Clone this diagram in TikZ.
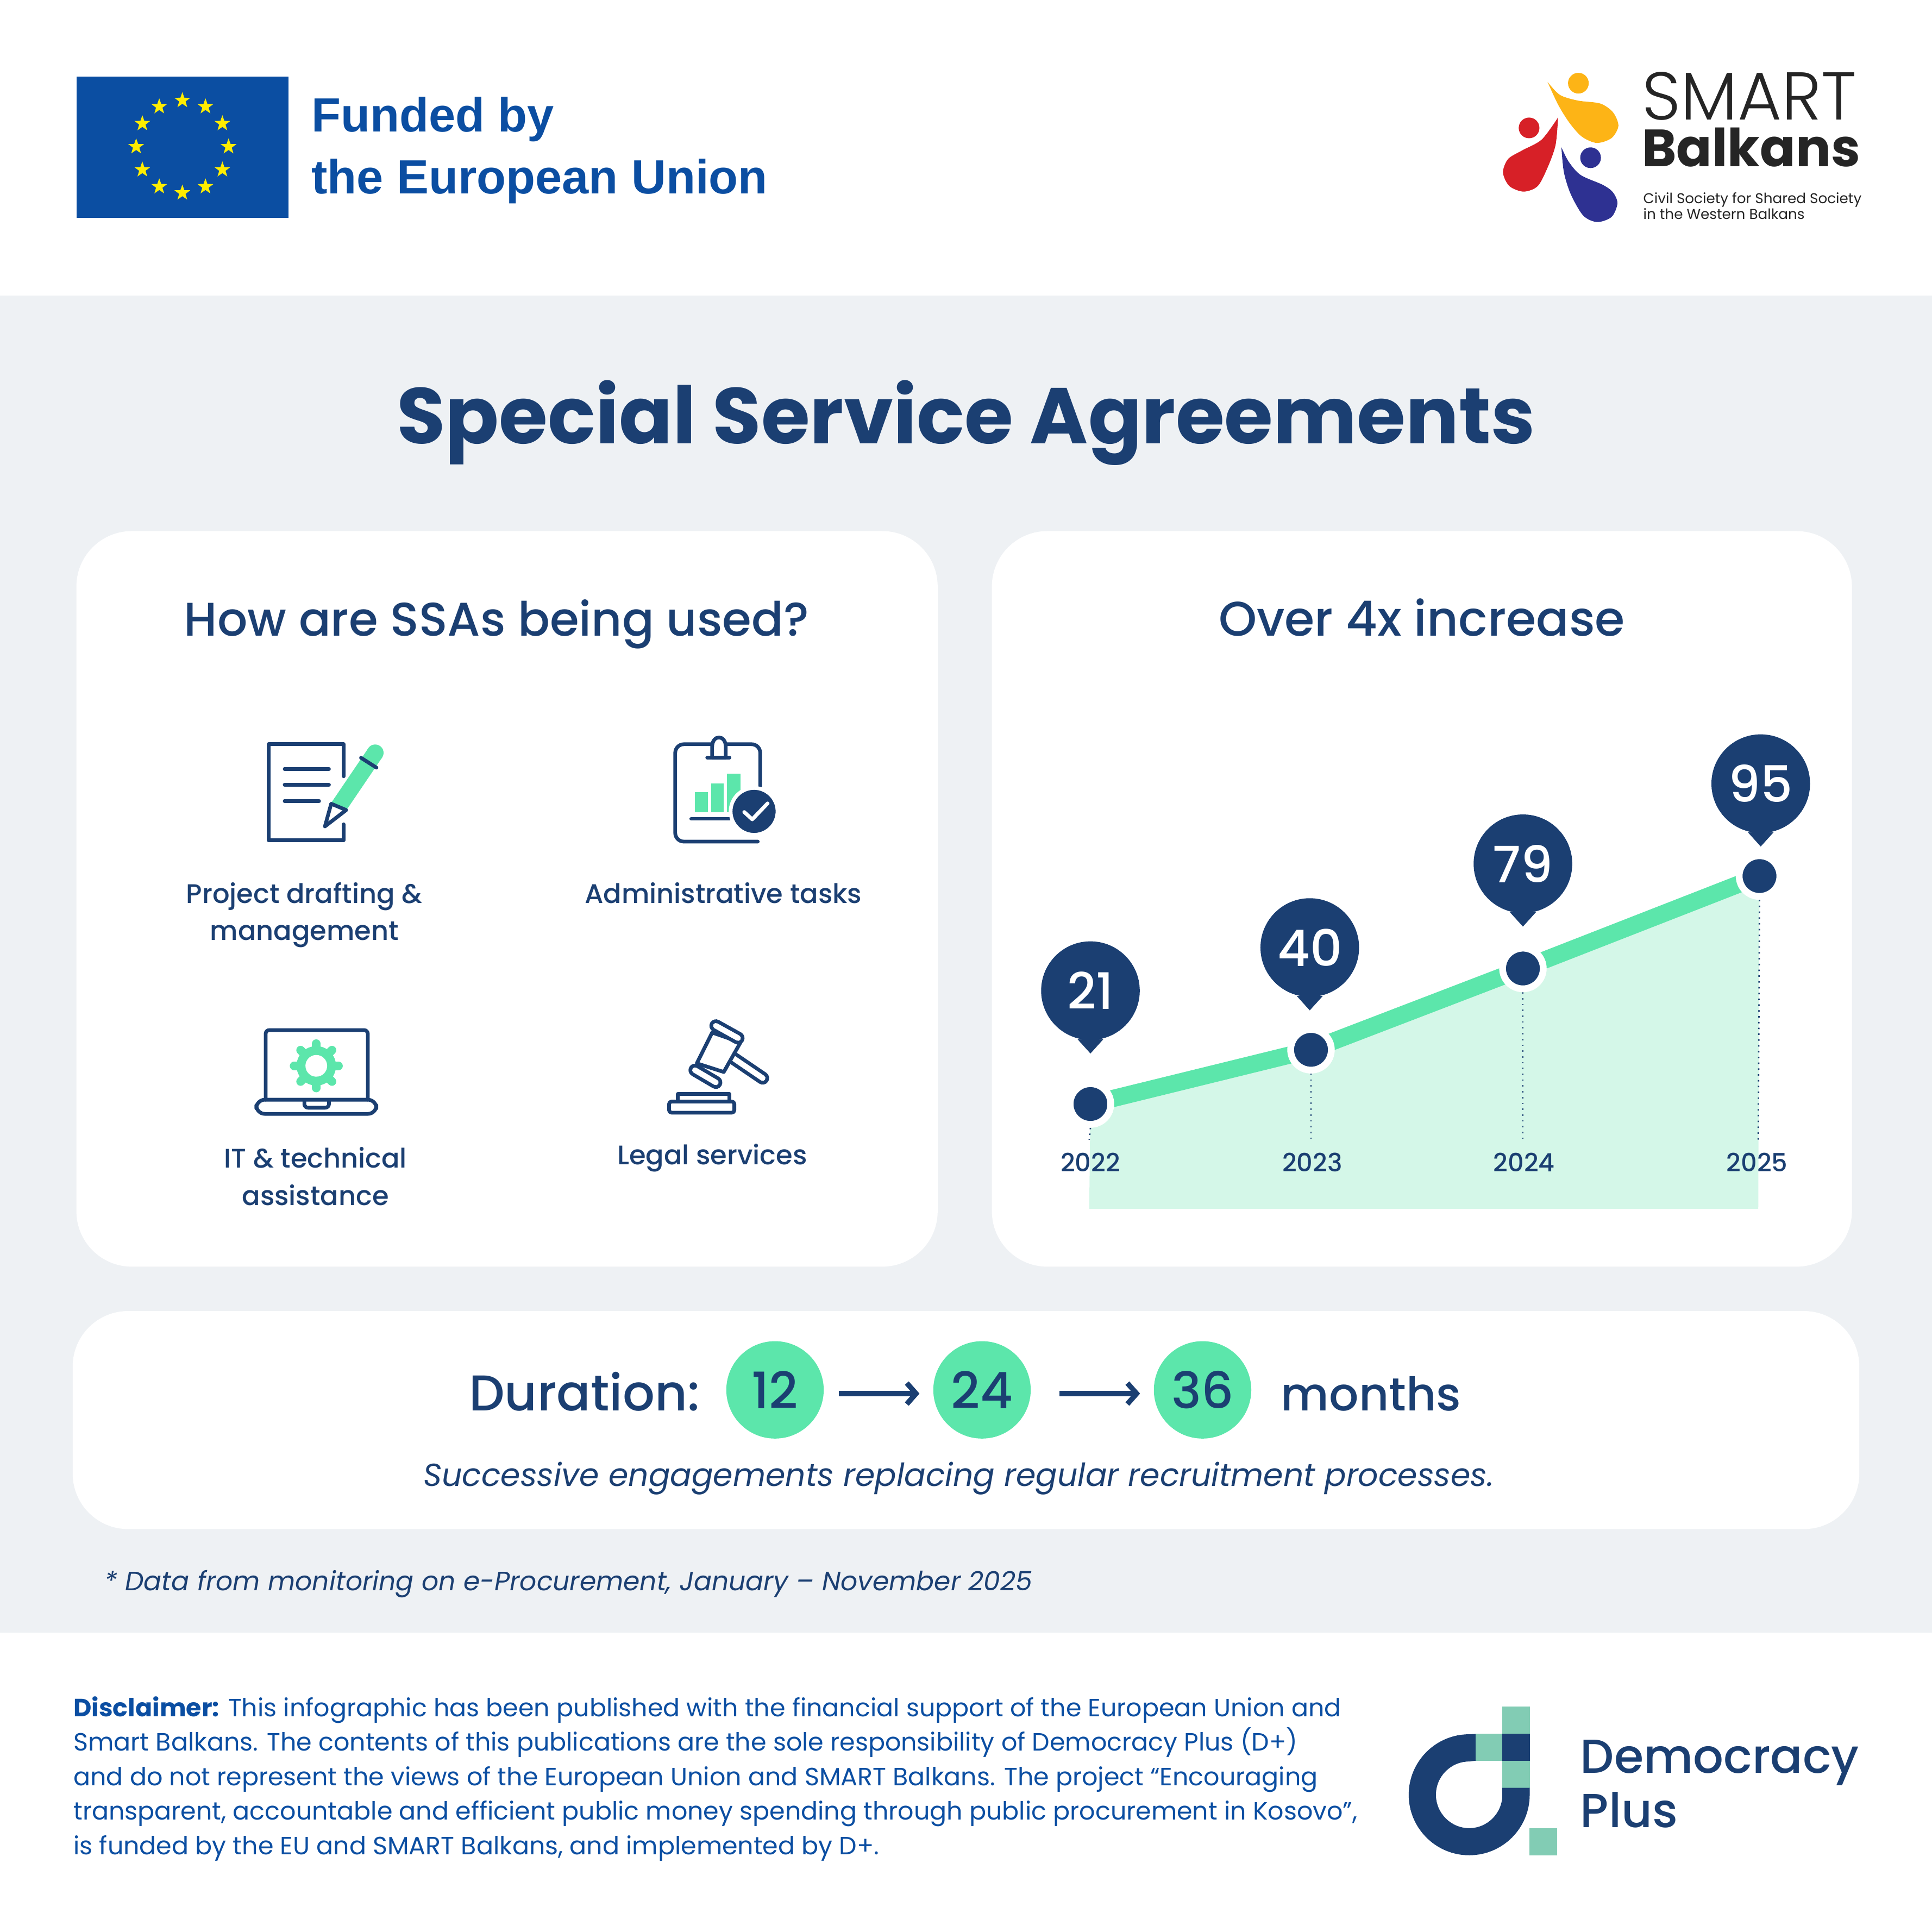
\documentclass[tikz,border=0pt]{standalone}
\usepackage{fontspec}
\setmainfont{Poppins}
\newfontfamily\medfont{Poppins Medium}
\newfontfamily\lightfont{Poppins Light}
\newfontfamily\eufont{Liberation Sans}
\usetikzlibrary{arrows.meta,shapes.geometric,positioning,backgrounds,calc}
\definecolor{navy}{HTML}{1B3F72}
\definecolor{mint}{HTML}{5CE6AB}
\definecolor{palemint}{HTML}{D4F7E8}
\definecolor{teal}{HTML}{82CCB4}
\definecolor{band}{HTML}{EEF1F4}
\definecolor{eublue}{HTML}{0B4EA2}
\definecolor{euyellow}{HTML}{FFED00}
\definecolor{smartblack}{HTML}{252525}
\definecolor{smartyellow}{HTML}{FDB416}
\definecolor{smartred}{HTML}{D72027}
\definecolor{smartblue}{HTML}{2E3192}
\tikzset{>={Straight Barb[length=.75mm,width=1.7mm]}}
\tikzset{card/.style={fill=white, rounded corners=.45cm}}
\tikzset{iconline/.style={draw=navy, line width=.03cm, line join=round, line cap=round}}
\tikzset{txt/.style={inner sep=0, text=navy, font=\medfont\fontsize{6.2}{8}\selectfont}}
\tikzset{yeartxt/.style={inner sep=0, text=navy, font=\medfont\fontsize{5.8}{8}\selectfont}}
\tikzset{heading/.style={inner sep=0, text=navy, font=\medfont\fontsize{11.1}{13}\selectfont}}
\tikzset{big/.style={inner sep=0, text=navy, font=\medfont\fontsize{11.6}{13}\selectfont}}
\tikzset{pinnode/.style={shape=circle, fill=navy, text=white, inner sep=0, minimum size=.8cm,
    font=\medfont\fontsize{11.6}{13}\selectfont}}
\tikzset{dotnode/.style={shape=circle, fill=navy, draw=white, line width=.055cm, inner sep=0,
    minimum size=.33cm}}
\tikzset{stepnode/.style={shape=circle, fill=mint, text=navy, inner sep=0, minimum size=.79cm,
    font=\medfont\fontsize{11.6}{13}\selectfont}}
\tikzset{flow/.style={->, draw=navy, line width=.042cm, shorten >=.105cm, shorten <=.115cm}}
\tikzset{droptick/.style={draw=navy, line width=.12mm, densely dotted}}
\begin{document}
\begin{tikzpicture}[x=.01cm, y=-.01cm]
  \useasboundingbox (0,0) rectangle (1568,1568);

  %%%% Band and cards
  \begin{scope}[on background layer]
    \fill[white] (0,0) rectangle (1568,1568);
    \fill[band] (0,240) rectangle (1568,1325);
    \fill[card] (62,431) rectangle (761,1028);
    \fill[card] (805,431) rectangle (1503,1028);
    \fill[card] (59,1064) rectangle (1509,1241);
  \end{scope}

  %%%% EU flag
  \fill[eublue] (62,62) rectangle (234,177);
  \foreach \a in {0,30,...,330}
    \node[star, star points=5, star point ratio=2.5, fill=euyellow, inner sep=0, minimum size=.135cm]
      (eustar\a) at ($(148,119)+(\a:37.5)$) {};
  \node[inner sep=0, anchor=base west, text=eublue, font=\eufont\bfseries\fontsize{11.08}{13}\selectfont]
    (funded) at (252,107) {Funded by};
  \node[inner sep=0, anchor=base west, text=eublue, font=\eufont\bfseries\fontsize{11.08}{13}\selectfont]
    (union) at (252,157) {the European Union};

  %%%% SMART logo
  \fill[smartyellow] (1281,67.5) circle (8.4);
  \fill[smartyellow] plot[smooth] coordinates {(1256,66.5) (1266,77) (1280.5,81.6)
    (1298.7,84) (1309,91) (1313.5,102) (1308,112) (1296,116) (1284,111) (1274,100) (1264.6,85) (1256,66.5)};
  \fill[smartred] (1241,103.8) circle (8.4);
  \fill[smartred] plot[smooth] coordinates {(1264.5,95.3) (1251.3,113.2) (1235.5,122)
    (1224,129) (1219.8,140) (1225,151) (1236.6,155.5) (1248,151) (1256,136) (1262.5,117.6) (1264.5,95.3)};
  \fill[smartblue] (1290.9,128) circle (8.4);
  \fill[smartblue] plot[smooth] coordinates {(1267.2,119.4) (1273,131) (1282.8,142)
    (1300.8,150) (1309,156) (1312.7,165) (1308,176) (1296.3,180.2) (1285,175) (1275,158) (1269.3,140) (1267.2,119.4)};
  \node[inner sep=0, anchor=base west, text=smartblack, font=\lightfont\fontsize{15.6}{16}\selectfont]
    (smart) at (1332,97) {SMART};
  \node[inner sep=0, anchor=base west, text=smartblack, font=\bfseries\fontsize{12.1}{14}\selectfont]
    (balkans) at (1332,135) {Balkans};
  \node[inner sep=0, anchor=base west, text=smartblack, font=\fontsize{3.29}{4}\selectfont]
    (civil) at (1333,165) {Civil Society for Shared Society};
  \node[inner sep=0, anchor=base west, text=smartblack, font=\fontsize{3.29}{4}\selectfont]
    (western) at (1333,178) {in the Western Balkans};

  %%%% Title
  \node[inner sep=0, anchor=base, text=navy, font=\bfseries\fontsize{18.25}{20}\selectfont]
    (title) at (784,360) {Special Service Agreements};

  %%%% Left card
  \node[heading, font=\medfont\fontsize{10.9}{13}\selectfont, anchor=base] (howused) at (403,516) {How are SSAs being used?};

  % pencil and page
  \draw[iconline] (279,630) -- (279,604) -- (218,604) -- (218,682) -- (279,682) -- (279,669);
  \draw[iconline] (231,624) -- (267,624);
  \draw[iconline] (231,637) -- (267,637);
  \draw[iconline] (231,650) -- (259,650);
  \draw[mint, line width=.135cm] (275,654.5) -- (304.5,611);
  \fill[mint] (304.5,611) circle (6.8);
  \draw[iconline] (293,615) -- (305.5,623);
  \draw[iconline, fill=white] (268.8,652.3) -- (281,657.4) -- (263.7,670.7) -- cycle;

  % clipboard
  \draw[iconline, rounded corners=.07cm] (617,638) -- (617,604) -- (548,604) -- (548,683) -- (615,683);
  \draw[iconline, fill=white] (578,615) -- (578,606) .. controls (578,596) and (589,596) .. (589,606) -- (589,615) -- cycle;
  \draw[iconline] (574,615) -- (592,615);
  \fill[mint] (564,643) rectangle (574.5,659);
  \fill[mint] (577,636) rectangle (587.4,659);
  \fill[mint] (590,627.7) rectangle (601,659);
  \draw[iconline] (561,664.5) -- (592,664.5);
  \node[shape=circle, fill=navy, draw=white, line width=.03cm, inner sep=0, minimum size=.38cm] (check) at (612,658.5) {};
  \draw[white, line width=.03cm, line cap=round, line join=round] (604,659) -- (610.5,665) -- (623,652);

  % laptop
  \draw[iconline, rounded corners=.03cm] (215.6,892.5) -- (215.6,836) -- (298.5,836) -- (298.5,892.5);
  \draw[iconline, rounded corners=.07cm] (208,892.5) -- (208,904) -- (305.5,904) -- (305.5,892.5) -- cycle;
  \draw[iconline, rounded corners=.03cm] (247,893) -- (247,899) -- (267,899) -- (267,893);
  \fill[mint] (256.7,865) circle (16);
  \foreach \a in {0,45,...,315}
    \draw[mint, line width=.07cm, line cap=round] ($(256.7,865)+(\a:12)$) -- ($(256.7,865)+(\a:18)$);
  \fill[white] (256.7,865) circle (8.8);

  % gavel
  \draw[navy, line width=.105cm, line cap=round] (594,858) -- (619,875);
  \draw[white, line width=.045cm, line cap=round] (594,858) -- (619,875);
  \draw[iconline, fill=white] (578,838) -- (565.5,863) -- (587.4,870) -- (601,846) -- cycle;
  \draw[navy, line width=.105cm, line cap=round] (581,832.5) -- (599,842.5);
  \draw[white, line width=.045cm, line cap=round] (581,832.5) -- (599,842.5);
  \draw[navy, line width=.105cm, line cap=round] (564,868.5) -- (581,878.5);
  \draw[white, line width=.045cm, line cap=round] (564,868.5) -- (581,878.5);
  \draw[iconline, fill=white] (550,888) rectangle (592,894);
  \draw[iconline, fill=white, rounded corners=.02cm] (543,894) rectangle (596,903);

  \node[txt, anchor=base] (draft1) at (247,733) {Project drafting \&};
  \node[txt, anchor=base] (draft2) at (247,763) {management};
  \node[txt, anchor=base] (admin) at (587,733) {Administrative tasks};
  \node[txt, anchor=base] (tech1) at (256,948) {IT \& technical};
  \node[txt, anchor=base] (tech2) at (256,978) {assistance};
  \node[txt, anchor=base] (legal) at (578,945) {Legal services};

  %%%% Right card
  \node[heading, font=\medfont\fontsize{11.2}{13}\selectfont, anchor=base] (increase) at (1154,516) {Over 4x increase};

  \node[dotnode] (d22) at (885,896) {};
  \node[dotnode] (d23) at (1064,852) {};
  \node[dotnode] (d24) at (1236,786) {};
  \node[dotnode] (d25) at (1428,711) {};
  \coordinate (f22) at (884,925);
  \coordinate (f23) at (1064,925);
  \coordinate (f24) at (1236,925);
  \coordinate (f25) at (1427,925);
  \begin{scope}[on background layer]
    \fill[palemint] (d22.center) -- (d23.center) -- (d24.center) -- (d25.center) -- (1427,981) -- (884,981) -- cycle;
    \draw[mint, line width=.14cm] (d22.center) -- (d23.center) -- (d24.center) -- (d25.center);
    \draw[droptick] (d22.south) -- (f22);
    \draw[droptick] (d23.south) -- (f23);
    \draw[droptick] (d24.south) -- (f24);
    \draw[droptick] (d25.south) -- (f25);
  \end{scope}

  \foreach \nm/\px/\py in {21/885/804, 40/1063/769, 79/1236/701, 95/1429/636} {
    \node[pinnode] (pin\nm) at (\px,\py) {\nm};
    \fill[navy] (pin\nm.-105) -- (\px,\py+51) -- (pin\nm.-75) -- cycle;
  }

  \node[yeartxt, anchor=base] (y22) at (885,951) {2022};
  \node[yeartxt, anchor=base] (y23) at (1065,951) {2023};
  \node[yeartxt, anchor=base] (y24) at (1237,951) {2024};
  \node[yeartxt, anchor=base] (y25) at (1426,951) {2025};

  %%%% Duration
  \node[big, anchor=base west] (duration) at (380,1145) {Duration:};
  \node[stepnode] (s12) at (629,1128) {12};
  \node[stepnode] (s24) at (797,1128) {24};
  \node[stepnode] (s36) at (976,1128) {36};
  \draw[flow] ([yshift=-.03cm]s12.east) -- ([yshift=-.03cm]s24.west);
  \draw[flow, shorten <=.225cm] ([yshift=-.03cm]s24.east) -- ([yshift=-.03cm]s36.west);
  \node[big, font=\medfont\fontsize{10.7}{13}\selectfont, anchor=base west] (months) at (1039,1145) {months};
  \node[inner sep=0, anchor=base, text=navy, font=\itshape\fontsize{7.34}{9}\selectfont]
    (successive) at (778,1206) {Successive engagements replacing regular recruitment processes.};
  \node[inner sep=0, anchor=base west, text=navy, font=\itshape\fontsize{6.12}{8}\selectfont]
    (monitoring) at (84,1291) {* Data from monitoring on e-Procurement, January -- November 2025};

  %%%% Footer
  \node[inner sep=0, anchor=north west, align=left, text=eublue, font=\fontsize{5.76}{7.97}\selectfont] (disclaimer) at (59,1376)
    {\textbf{Disclaimer:} This infographic has been published with the financial support of the European Union and\\
     Smart Balkans. The contents of this publications are the sole responsibility of Democracy Plus (D+)\\
     and do not represent the views of the European Union and SMART Balkans. The project ``Encouraging\\
     transparent, accountable and efficient public money spending through public procurement in Kosovo'',\\
     is funded by the EU and SMART Balkans, and implemented by D+.};

  %%%% Democracy Plus logo
  \fill[teal] (1219.2,1385.2) rectangle (1241.5,1407.2);
  \fill[teal] (1197.5,1407.2) rectangle (1219.2,1429);
  \fill[navy] (1219.2,1407.2) rectangle (1241.5,1429);
  \fill[teal] (1219.2,1429) rectangle (1241.5,1451);
  \fill[teal] (1241.3,1483.7) rectangle (1263.7,1506);
  \fill[navy] (1197.5,1407.2) -- (1192.4,1407.5) .. controls (1165.3,1407.5) and (1143.3,1429.5) .. (1143.3,1456.6)
    .. controls (1143.3,1483.7) and (1165.3,1505.7) .. (1192.4,1505.7)
    .. controls (1219.5,1505.7) and (1241.5,1483.7) .. (1241.5,1456.6) -- (1241.5,1451) -- (1219.3,1451) -- (1219.3,1456.6)
    .. controls (1219.3,1471.5) and (1207.3,1483.7) .. (1192.4,1483.7)
    .. controls (1177.5,1483.7) and (1165.4,1471.5) .. (1165.4,1456.6)
    .. controls (1165.4,1441.7) and (1177.5,1429.6) .. (1192.4,1429.6) -- (1197.5,1429) -- cycle;
  \node[inner sep=0, anchor=base west, text=navy, font=\medfont\fontsize{11}{13}\selectfont]
    (democracy) at (1282,1439) {Democracy};
  \node[inner sep=0, anchor=base west, text=navy, font=\medfont\fontsize{11}{13}\selectfont]
    (plus) at (1282,1483) {Plus};
\end{tikzpicture}
\end{document}
